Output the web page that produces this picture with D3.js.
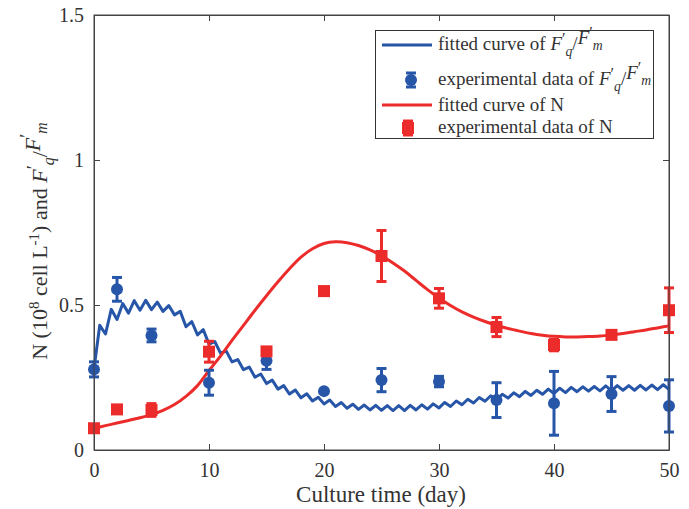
<!DOCTYPE html>
<html>
<head>
<meta charset="utf-8">
<script src="https://cdn.jsdelivr.net/npm/d3@7/dist/d3.min.js"></script>
<style>
  html, body { margin: 0; padding: 0; background: #fff; }
  svg { display: block; }
  text { font-family: "Liberation Serif", "Times New Roman", serif; fill: #333; }
</style>
</head>
<body>
<svg id="chart" width="689" height="509"></svg>
<script>
// Sampling days of the experiment
const days = [0, 2, 5, 10, 15, 20, 25, 30, 35, 40, 45, 50];

// Measured F'q/F'm (mean and error)
const fqfmMean = [0.278, 0.554, 0.395, 0.232, 0.308, 0.203, 0.241, 0.236, 0.172, 0.161, 0.193, 0.152];
const fqfmErr  = [0.026, 0.041, 0.022, 0.043, 0.030, 0.004, 0.040, 0.018, 0.060, 0.110, 0.060, 0.090];

// Measured cell density N (10^8 cell/L)
const nMean = [0.075, 0.140, 0.138, 0.339, 0.340, 0.548, 0.669, 0.523, 0.424, 0.362, 0.397, 0.482];
const nErr  = [0.004, 0.006, 0.022, 0.036, 0.006, 0.005, 0.088, 0.034, 0.033, 0.020, 0.012, 0.077];

// Fitted F'q/F'm curve, half-day steps from day 0 to day 50
const fqfmFitStep = 0.5;
const fqfmFit = [
  0.280, 0.430, 0.400, 0.485, 0.450, 0.505, 0.472, 0.515, 0.482, 0.516,
  0.484, 0.510, 0.478, 0.498, 0.466, 0.478, 0.425, 0.443, 0.397, 0.415,
  0.365, 0.374, 0.334, 0.341, 0.304, 0.312, 0.277, 0.286, 0.251, 0.262,
  0.229, 0.241, 0.210, 0.222, 0.193, 0.207, 0.180, 0.194, 0.169, 0.182,
  0.159, 0.172, 0.150, 0.164, 0.144, 0.158, 0.140, 0.155, 0.138, 0.154,
  0.137, 0.153, 0.136, 0.153, 0.136, 0.154, 0.138, 0.156, 0.141, 0.159,
  0.145, 0.164, 0.150, 0.169, 0.156, 0.175, 0.162, 0.181, 0.168, 0.187,
  0.174, 0.192, 0.179, 0.197, 0.184, 0.202, 0.188, 0.206, 0.192, 0.210,
  0.195, 0.213, 0.198, 0.216, 0.201, 0.218, 0.203, 0.219, 0.204, 0.221,
  0.205, 0.222, 0.206, 0.222, 0.206, 0.223, 0.207, 0.224, 0.208, 0.225,
  0.209
];

// Fitted N curve, one value per day from day 0 to day 50
const nFit = [
  0.075, 0.084, 0.093, 0.102, 0.111, 0.122, 0.137, 0.157, 0.185, 0.222,
  0.274, 0.324, 0.378, 0.430, 0.482, 0.532, 0.580, 0.625, 0.665, 0.694,
  0.712, 0.718, 0.715, 0.705, 0.690, 0.670, 0.645, 0.617, 0.585, 0.553,
  0.524, 0.498, 0.476, 0.458, 0.443, 0.430, 0.419, 0.410, 0.402, 0.396,
  0.392, 0.390, 0.390, 0.391, 0.393, 0.397, 0.402, 0.408, 0.414, 0.421,
  0.428
];

const xTicks = [0, 10, 20, 30, 40, 50];
const yTicks = [0, 0.5, 1, 1.5];
const yTickLabels = ["0", "0.5", "1", "1.5"];

const blue = "#2756a8";
const red = "#ec2b2b";
const axisColor = "#444";

const svg = d3.select("#chart");
const plotL = 94, plotR = 669, plotT = 15, plotB = 450;

const x = d3.scaleLinear().domain([0, 50]).range([plotL, plotR]);
const y = d3.scaleLinear().domain([0, 1.5]).range([plotB, plotT]);

// Axes with inward ticks, mirrored on top and right
const tick = 6;
const gx = svg.append("g").attr("transform", `translate(0,${plotB})`)
  .call(d3.axisBottom(x).tickValues(xTicks).tickSizeInner(-tick).tickSizeOuter(0).tickPadding(13).tickFormat(d3.format("d")));
const gxTop = svg.append("g").attr("transform", `translate(0,${plotT})`)
  .call(d3.axisTop(x).tickValues(xTicks).tickSizeInner(-tick).tickSizeOuter(0).tickFormat(""));
const gy = svg.append("g").attr("transform", `translate(${plotL},0)`)
  .call(d3.axisLeft(y).tickValues(yTicks).tickSizeInner(-tick).tickSizeOuter(0).tickPadding(10)
    .tickFormat((d, i) => yTickLabels[i]));
const gyRight = svg.append("g").attr("transform", `translate(${plotR},0)`)
  .call(d3.axisRight(y).tickValues(yTicks).tickSizeInner(-tick).tickSizeOuter(0).tickFormat(""));

[gx, gxTop, gy, gyRight].forEach(g => {
  g.selectAll("path.domain").attr("stroke", axisColor).attr("stroke-width", 1);
  g.selectAll(".tick line").attr("stroke", axisColor).attr("stroke-width", 1);
  g.selectAll(".tick text").attr("fill", "#333")
    .style("font-family", "'Liberation Serif', serif").style("font-size", "20px");
});

// Fitted lines
const blueLine = d3.line()
  .x((d, i) => x(i * fqfmFitStep))
  .y(d => y(d));
svg.append("path").datum(fqfmFit)
  .attr("d", blueLine)
  .attr("fill", "none").attr("stroke", blue).attr("stroke-width", 3)
  .attr("stroke-linejoin", "round");

const redLine = d3.line()
  .x((d, i) => x(i))
  .y(d => y(d))
  .curve(d3.curveCatmullRom);
svg.append("path").datum(nFit)
  .attr("d", redLine)
  .attr("fill", "none").attr("stroke", red).attr("stroke-width", 3);

// Error bars
const cap = 5;
function errorBars(means, errs, color) {
  const g = svg.append("g").attr("stroke", color).attr("stroke-width", 3);
  days.forEach((d, i) => {
    const cx = x(d), y0 = y(means[i] - errs[i]), y1 = y(means[i] + errs[i]);
    g.append("line").attr("x1", cx).attr("x2", cx).attr("y1", y0).attr("y2", y1);
    g.append("line").attr("x1", cx - cap).attr("x2", cx + cap).attr("y1", y0).attr("y2", y0);
    g.append("line").attr("x1", cx - cap).attr("x2", cx + cap).attr("y1", y1).attr("y2", y1);
  });
}
errorBars(fqfmMean, fqfmErr, blue);
errorBars(nMean, nErr, red);

// Markers
svg.append("g").selectAll("circle").data(days).join("circle")
  .attr("cx", d => x(d)).attr("cy", (d, i) => y(fqfmMean[i]))
  .attr("r", 6).attr("fill", blue);
const sq = 12;
svg.append("g").selectAll("rect").data(days).join("rect")
  .attr("x", d => x(d) - sq / 2).attr("y", (d, i) => y(nMean[i]) - sq / 2)
  .attr("width", sq).attr("height", sq).attr("fill", red);

// Plot frame
svg.append("rect").attr("x", plotL).attr("y", plotT)
  .attr("width", plotR - plotL).attr("height", plotB - plotT)
  .attr("fill", "none").attr("stroke", axisColor).attr("stroke-width", 1);

// F'q/F'm as rich text: italic F, prime raised, subscripted index
function addFqFm(t, size) {
  const sub = size * 0.3, sup = size * 0.32, small = size * 0.72;
  ["q", "m"].forEach((s, k) => {
    const f = t.append("tspan").style("font-style", "italic").text("F");
    if (k === 1) f.attr("dy", -sub);
    t.append("tspan").attr("dy", -sup).style("font-size", (size * 0.85) + "px").text("′");
    t.append("tspan").attr("dy", sup + sub)
      .style("font-style", "italic").style("font-size", small + "px").text(s);
    if (k === 0) t.append("tspan").attr("dy", -sub).text("/");
  });
}

// Legend
const lg = svg.append("g");
lg.append("rect").attr("x", 375.5).attr("y", 30.5).attr("width", 278).attr("height", 108)
  .attr("fill", "#fff").attr("stroke", "#333").attr("stroke-width", 1);
const lx0 = 382, lx1 = 432, tx = 438, fs = 19;
lg.append("line").attr("x1", lx0).attr("x2", lx1).attr("y1", 45).attr("y2", 45)
  .attr("stroke", blue).attr("stroke-width", 3);
lg.append("line").attr("x1", lx0).attr("x2", lx1).attr("y1", 105).attr("y2", 105)
  .attr("stroke", red).attr("stroke-width", 3);
// legend error-bar symbols
const lb = lg.append("g").attr("stroke", blue).attr("stroke-width", 3);
lb.append("line").attr("x1", 411).attr("x2", 411).attr("y1", 73).attr("y2", 87);
lb.append("line").attr("x1", 406).attr("x2", 416).attr("y1", 73).attr("y2", 73);
lb.append("line").attr("x1", 406).attr("x2", 416).attr("y1", 87).attr("y2", 87);
lg.append("circle").attr("cx", 411).attr("cy", 80).attr("r", 6).attr("fill", blue);
const lr = lg.append("g").attr("stroke", red).attr("stroke-width", 3);
lr.append("line").attr("x1", 408).attr("x2", 408).attr("y1", 121).attr("y2", 135);
lr.append("line").attr("x1", 403).attr("x2", 413).attr("y1", 121).attr("y2", 121);
lr.append("line").attr("x1", 403).attr("x2", 413).attr("y1", 135).attr("y2", 135);
lg.append("rect").attr("x", 402).attr("y", 122).attr("width", 12).attr("height", 12).attr("fill", red);

const t1 = lg.append("text").attr("x", tx).attr("y", 50).style("font-size", fs + "px");
t1.append("tspan").text("fitted curve of ");
addFqFm(t1, fs);
const t2 = lg.append("text").attr("x", tx).attr("y", 85).style("font-size", fs + "px");
t2.append("tspan").text("experimental data of ");
addFqFm(t2, fs);
lg.append("text").attr("x", tx).attr("y", 111).style("font-size", fs + "px").text("fitted curve of N");
lg.append("text").attr("x", tx).attr("y", 133).style("font-size", fs + "px").text("experimental data of N");

// Axis titles
svg.append("text").attr("x", (plotL + plotR) / 2 - 0.5).attr("y", 502)
  .attr("text-anchor", "middle").style("font-size", "23px").text("Culture time (day)");

const yl = svg.append("text").attr("transform", "translate(47,241) rotate(-90)")
  .attr("text-anchor", "middle").style("font-size", "22px");
yl.append("tspan").text("N (10");
yl.append("tspan").attr("dy", -8).style("font-size", "15px").text("8");
yl.append("tspan").attr("dy", 8).text(" cell L");
yl.append("tspan").attr("dy", -8).style("font-size", "15px").text("-1");
yl.append("tspan").attr("dy", 8).text(") and ");
addFqFm(yl, 22);
</script>
</body>
</html>
